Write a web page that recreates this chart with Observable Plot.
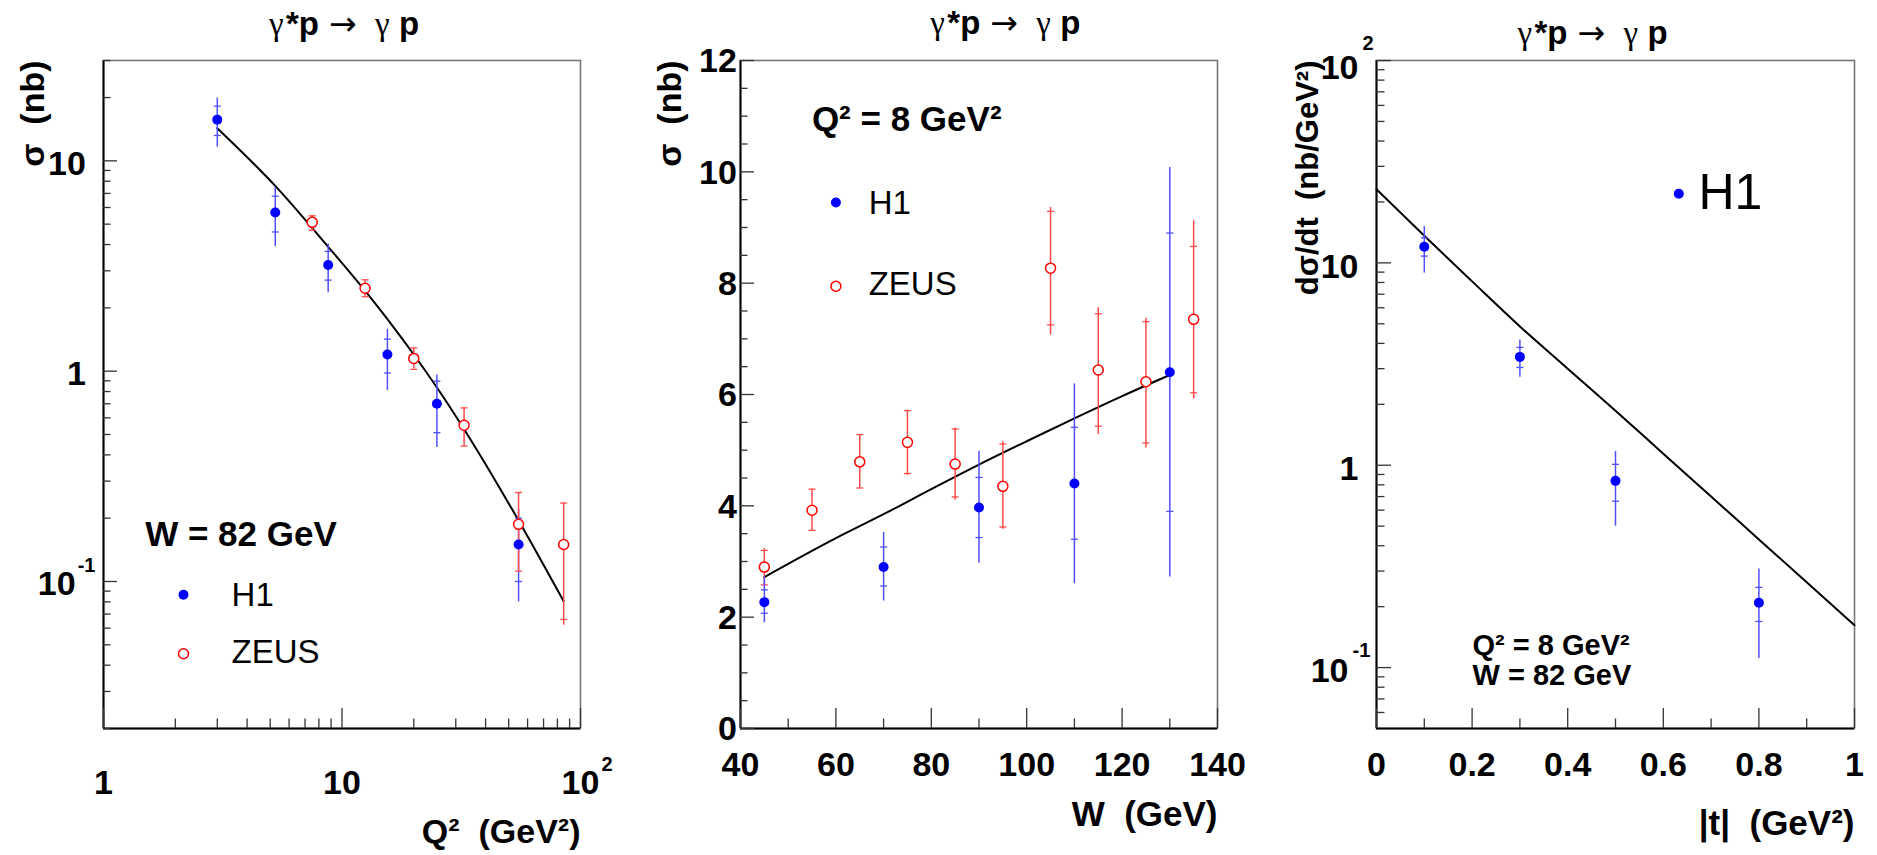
<!DOCTYPE html>
<html><head><meta charset="utf-8">
<script src="https://cdn.jsdelivr.net/npm/d3@7"></script>
<script src="https://cdn.jsdelivr.net/npm/@observablehq/plot@0.6"></script>
<style>
html,body{margin:0;padding:0;background:#fff;}
#fig{position:relative;width:1877px;height:855px;overflow:hidden;background:#fff;}
#fig svg{position:absolute;top:0;}
</style></head><body><div id="fig"></div>
<script>
// ---------------- Panel 1: sigma vs Q2 (W = 82 GeV) ----------------
const q2H1 = [3, 5.25, 8.75, 15.5, 25, 55];
const sigQ2H1 = [15.7, 5.68, 3.2, 1.2, 0.70, 0.15];
const sigQ2H1TotLo = [11.6, 3.91, 2.36, 0.81, 0.433, 0.08];
const sigQ2H1TotHi = [19.9, 7.47, 4.02, 1.58, 0.96, 0.22];
const sigQ2H1StatLo = [13.2, 4.59, 2.71, 0.98, 0.51, 0.10];
const sigQ2H1StatHi = [18.2, 6.79, 3.71, 1.42, 0.896, 0.20];

const q2Zeus = [7.5, 12.5, 20, 32.5, 55, 85];
const sigQ2Zeus = [5.1, 2.48, 1.15, 0.553, 0.187, 0.15];
const sigQ2ZeusTotLo = [4.68, 2.26, 1.02, 0.44, 0.112, 0.062];
const sigQ2ZeusTotHi = [5.48, 2.72, 1.29, 0.669, 0.265, 0.236];
const sigQ2ZeusCapLo = [4.68, 2.26, 1.02, 0.44, 0.112, 0.066];
const sigQ2ZeusCapHi = [5.48, 2.72, 1.29, 0.669, 0.265, 0.236];

const q2Model = [3, 5.25, 8.75, 12.5, 15.5, 20, 25, 32.5, 55, 85];
const sigQ2Model = [14.3, 7.6, 3.9, 2.41, 1.77, 1.2, 0.836, 0.53, 0.195, 0.0805];

const p1XMajor = [1, 10, 100];
const p1XMinor = [2, 3, 4, 5, 6, 7, 8, 9, 20, 30, 40, 50, 60, 70, 80, 90];
const p1YMajor = [0.1, 1, 10];
const p1YMinor = [0.02, 0.03, 0.04, 0.05, 0.06, 0.07, 0.08, 0.09, 0.2, 0.3, 0.4, 0.5, 0.6, 0.7, 0.8, 0.9, 2, 3, 4, 5, 6, 7, 8, 9, 20, 30];
const p1XLabelVals = [1, 10, 100];
const p1XLabelBase = ["1", "10", "10"];
const p1XLabelExp = ["", "", "2"];
const p1YLabelVals = [0.1, 1, 10];
const p1YLabelBase = ["10", "1", "10"];
const p1YLabelExp = ["-1", "", ""];

// ---------------- Panel 2: sigma vs W (Q2 = 8 GeV2) ----------------
const wH1 = [45, 70, 90, 110, 130];
const sigWH1 = [2.27, 2.9, 3.97, 4.4, 6.4];
const sigWH1TotLo = [1.9, 2.29, 2.97, 2.6, 2.72];
const sigWH1TotHi = [2.72, 3.52, 4.98, 6.19, 10.08];
const sigWH1StatLo = [2.07, 2.56, 3.43, 3.4, 3.9];
const sigWH1StatHi = [2.49, 3.26, 4.51, 5.41, 8.9];

const wZeus = [45, 55, 65, 75, 85, 95, 105, 115, 125, 135];
const sigWZeus = [2.9, 3.92, 4.79, 5.14, 4.75, 4.35, 8.27, 6.44, 6.23, 7.35];
const sigWZeusTotLo = [2.58, 3.56, 4.32, 4.55, 4.1, 3.58, 7.07, 5.28, 5.04, 5.92];
const sigWZeusTotHi = [3.23, 4.3, 5.28, 5.72, 5.4, 5.15, 9.36, 7.56, 7.37, 9.12];
const sigWZeusCapLo = [2.58, 3.56, 4.32, 4.58, 4.16, 3.62, 7.25, 5.43, 5.13, 6.03];
const sigWZeusCapHi = [3.2, 4.3, 5.28, 5.71, 5.38, 5.11, 9.29, 7.45, 7.31, 8.66];

const wModel = [45, 60, 70, 80, 90, 100, 110, 120, 130];
const sigWModel = [2.72, 3.42, 3.85, 4.3, 4.74, 5.16, 5.57, 5.97, 6.35];

const p2XMajor = [40, 60, 80, 100, 120, 140];
const p2XMinor = [50, 70, 90, 110, 130];
const p2YMajor = [0, 2, 4, 6, 8, 10, 12];
const p2YMinor = [0.5, 1, 1.5, 2.5, 3, 3.5, 4.5, 5, 5.5, 6.5, 7, 7.5, 8.5, 9, 9.5, 10.5, 11, 11.5];
const p2XLabels = ["40", "60", "80", "100", "120", "140"];
const p2YLabels = ["0", "2", "4", "6", "8", "10", "12"];

// ---------------- Panel 3: dsigma/dt vs |t| ----------------
const tH1 = [0.1, 0.3, 0.5, 0.8];
const dsdtH1 = [12.0, 3.43, 0.837, 0.209];
const dsdtH1TotLo = [8.9, 2.72, 0.5, 0.111];
const dsdtH1TotHi = [15.1, 4.16, 1.17, 0.307];
const dsdtH1StatLo = [10.8, 3.04, 0.664, 0.169];
const dsdtH1StatHi = [13.3, 3.82, 1.01, 0.249];

const tModel = [0, 0.1, 0.2, 0.3, 0.4, 0.5, 0.6, 0.7, 0.8, 0.9, 1.0];
const dsdtModel = [23.1, 13.6, 8.1, 4.85, 3.0, 1.86, 1.14, 0.70, 0.43, 0.264, 0.162];

const p3XMajor = [0, 0.2, 0.4, 0.6, 0.8, 1];
const p3XMinor = [0.1, 0.3, 0.5, 0.7, 0.9];
const p3XLabels = ["0", "0.2", "0.4", "0.6", "0.8", "1"];
const p3YMajor = [0.1, 1, 10, 100];
const p3YMinor = [0.06, 0.07, 0.08, 0.09, 0.2, 0.3, 0.4, 0.5, 0.6, 0.7, 0.8, 0.9, 2, 3, 4, 5, 6, 7, 8, 9, 20, 30, 40, 50, 60, 70, 80, 90];
const p3YLabelVals = [0.1, 1, 10, 100];
const p3YLabelBase = ["10", "1", "10", "10"];
const p3YLabelExp = ["-1", "", "", "2"];

// title "γ*p → γ p" split into pieces (symbol-font gammas, bold p)
const titlePieces = ["γ", "*p", "→", "γ", "p"];
const titlePieceKind = ["greek", "bold", "arrow", "greek", "bold"];

// ---------------- styling ----------------
const FONT = '"Liberation Sans", Arial, Helvetica, sans-serif';
const SERIF = '"Liberation Serif", "Times New Roman", serif';
const ARROWFONT = '"DejaVu Sans", sans-serif';
const BLUE = "#0000ff", RED = "#ff0000";
const ERR_BLUE = "#5050ff", ERR_RED = "#ff4a4a";
const TICK = "#333";
const W_IN = 477, H_IN = 668;
const capSym = {draw(ctx) { ctx.moveTo(-3.5, 0); ctx.lineTo(3.5, 0); }};
const fig = document.getElementById("fig");
const pieceOffsets = [-76, -59, -16, 30, 54];

function frameMarks(xMin, yMin) {
  return [
    Plot.frame({stroke: "#777", strokeWidth: 1.6}),
    Plot.ruleX([xMin], {stroke: "black", strokeWidth: 2}),
    Plot.ruleY([yMin], {stroke: "black", strokeWidth: 2})
  ];
}
function tickMarks(xMajor, xMinor, yMajor, yMinor) {
  return [
    Plot.tickX(xMinor, {x: d => d, insetTop: H_IN - 9.5, stroke: TICK, strokeWidth: 1.3}),
    Plot.tickX(xMajor, {x: d => d, insetTop: H_IN - 20, stroke: TICK, strokeWidth: 1.3}),
    Plot.tickY(yMinor, {y: d => d, insetRight: W_IN - 7.5, stroke: TICK, strokeWidth: 1.3}),
    Plot.tickY(yMajor, {y: d => d, insetRight: W_IN - 14, stroke: TICK, strokeWidth: 1.3})
  ];
}
function errMarks(xs, lo, hi, capLo, capHi, color) {
  const idx = d3.range(xs.length);
  return [
    Plot.ruleX(idx, {x: i => xs[i], y1: i => lo[i], y2: i => hi[i], stroke: color, strokeWidth: 1.5}),
    Plot.dot(idx, {x: i => xs[i], y: i => capLo[i], symbol: capSym, stroke: color, fill: "none", strokeWidth: 1.3}),
    Plot.dot(idx, {x: i => xs[i], y: i => capHi[i], symbol: capSym, stroke: color, fill: "none", strokeWidth: 1.3})
  ];
}
function h1Dots(xs, ys) {
  return Plot.dot(d3.range(xs.length), {x: i => xs[i], y: i => ys[i], r: 5, fill: BLUE, stroke: "none"});
}
function zeusDots(xs, ys) {
  return Plot.dot(d3.range(xs.length), {x: i => xs[i], y: i => ys[i], r: 5, fill: "white", stroke: RED, strokeWidth: 1.5});
}
function txt(s, o) {
  return Plot.text([s], {text: d => d, fill: "black", lineAnchor: "middle", ...o});
}
function titleMarks(dx, dy) {
  return titlePieces.map((s, i) => {
    const k = titlePieceKind[i];
    return txt(s, {
      frameAnchor: "top", textAnchor: "start", dx: dx + pieceOffsets[i], dy,
      fontSize: k === "greek" ? 33 : 33,
      fontWeight: k === "bold" ? "bold" : "normal",
      fontFamily: k === "greek" ? SERIF : k === "arrow" ? ARROWFONT : FONT
    });
  });
}
function yLogLabels(vals, base, exp, o) {
  const idx = d3.range(vals.length);
  const common = {frameAnchor: "left", lineAnchor: "middle", fontWeight: "bold"};
  return [
    Plot.text(idx, {...common, filter: i => exp[i] === "", y: i => vals[i], text: i => base[i], textAnchor: "end", dx: o.dx, dy: o.dy, fontSize: 34}),
    Plot.text(idx, {...common, filter: i => exp[i] === "-1", y: i => vals[i], text: i => base[i], textAnchor: "end", dx: o.dxNeg, dy: o.dy, fontSize: 34}),
    Plot.text(idx, {...common, filter: i => exp[i] === "-1", y: i => vals[i], text: i => exp[i], textAnchor: "start", dx: o.dxNegExp, dy: o.dyExp, fontSize: 20}),
    Plot.text(idx, {...common, filter: i => exp[i] === "2", y: i => vals[i], text: i => base[i], textAnchor: "end", dx: o.dx, dy: o.dyTop, fontSize: 34}),
    Plot.text(idx, {...common, filter: i => exp[i] === "2", y: i => vals[i], text: i => exp[i], textAnchor: "start", dx: o.dxPosExp, dy: o.dyExp, fontSize: 20})
  ];
}
function makePanel(left, ml, mr, xOpt, yOpt, marks) {
  const svg = Plot.plot({
    width: 626, height: 855,
    marginLeft: ml, marginRight: mr, marginTop: 60, marginBottom: 127,
    x: {...xOpt, axis: null}, y: {...yOpt, axis: null},
    style: {fontFamily: FONT, background: "transparent", color: "black", overflow: "visible"},
    marks
  });
  svg.style.left = left + "px";
  fig.appendChild(svg);
}

// ---------------- Panel 1 ----------------
{
  const idxX = d3.range(p1XLabelVals.length);
  makePanel(0, 103, 46, {type: "log", domain: [1, 100]}, {type: "log", domain: [0.02, 30]}, [
    ...frameMarks(1, 0.02),
    ...tickMarks(p1XMajor, p1XMinor, p1YMajor, p1YMinor),
    ...yLogLabels(p1YLabelVals, p1YLabelBase, p1YLabelExp, {dx: -17.6, dy: 3, dxNeg: -27.8, dxNegExp: -25.8, dyExp: -16, dyTop: 3, dxPosExp: -15}),
    Plot.text(idxX, {x: i => p1XLabelVals[i], text: i => p1XLabelBase[i], frameAnchor: "bottom", lineAnchor: "middle", textAnchor: "middle", dy: 54.7, fontSize: 34, fontWeight: "bold"}),
    Plot.text(idxX, {filter: i => p1XLabelExp[i] !== "", x: i => p1XLabelVals[i], text: i => p1XLabelExp[i], frameAnchor: "bottom", lineAnchor: "middle", textAnchor: "start", dx: 21, dy: 36, fontSize: 20, fontWeight: "bold"}),
    Plot.line(d3.range(q2Model.length), {x: i => q2Model[i], y: i => sigQ2Model[i], stroke: "black", strokeWidth: 2, curve: "monotone-x"}),
    ...errMarks(q2H1, sigQ2H1TotLo, sigQ2H1TotHi, sigQ2H1StatLo, sigQ2H1StatHi, ERR_BLUE),
    ...errMarks(q2Zeus, sigQ2ZeusTotLo, sigQ2ZeusTotHi, sigQ2ZeusCapLo, sigQ2ZeusCapHi, ERR_RED),
    h1Dots(q2H1, sigQ2H1),
    zeusDots(q2Zeus, sigQ2Zeus),
    ...titleMarks(3, -36.5),
    txt("σ  (nb)", {frameAnchor: "top-left", rotate: -90, textAnchor: "end", dx: -70.6, dy: 0, fontSize: 34, fontWeight: "bold"}),
    txt("Q²  (GeV²)", {frameAnchor: "bottom-right", textAnchor: "end", dx: 0, dy: 103.4, fontSize: 34, fontWeight: "bold"}),
    txt("W = 82 GeV", {frameAnchor: "top-left", textAnchor: "start", dx: 41.7, dy: 473.8, fontSize: 35, fontWeight: "bold"}),
    Plot.dot([0], {frameAnchor: "top-left", dx: 80, dy: 534.3, r: 5, fill: BLUE}),
    txt("H1", {frameAnchor: "top-left", textAnchor: "start", dx: 128.1, dy: 534.5, fontSize: 33}),
    Plot.dot([0], {frameAnchor: "top-left", dx: 80, dy: 593.3, r: 5, fill: "white", stroke: RED, strokeWidth: 1.5}),
    txt("ZEUS", {frameAnchor: "top-left", textAnchor: "start", dx: 128.1, dy: 591.8, fontSize: 33})
  ]);
}

// ---------------- Panel 2 ----------------
{
  makePanel(626, 114, 35, {type: "linear", domain: [40, 140]}, {type: "linear", domain: [0, 12]}, [
    ...frameMarks(40, 0),
    ...tickMarks(p2XMajor, p2XMinor, p2YMajor, p2YMinor),
    Plot.text(d3.range(p2YMajor.length), {y: i => p2YMajor[i], text: i => p2YLabels[i], frameAnchor: "left", lineAnchor: "middle", textAnchor: "end", dx: -3.6, dy: 1, fontSize: 34, fontWeight: "bold"}),
    Plot.text(d3.range(p2XMajor.length), {x: i => p2XMajor[i], text: i => p2XLabels[i], frameAnchor: "bottom", lineAnchor: "middle", textAnchor: "middle", dy: 36.4, fontSize: 34, fontWeight: "bold"}),
    Plot.line(d3.range(wModel.length), {x: i => wModel[i], y: i => sigWModel[i], stroke: "black", strokeWidth: 2, curve: "monotone-x"}),
    ...errMarks(wZeus, sigWZeusTotLo, sigWZeusTotHi, sigWZeusCapLo, sigWZeusCapHi, ERR_RED),
    ...errMarks(wH1, sigWH1TotLo, sigWH1TotHi, sigWH1StatLo, sigWH1StatHi, ERR_BLUE),
    zeusDots(wZeus, sigWZeus),
    h1Dots(wH1, sigWH1),
    ...titleMarks(27.3, -37.5),
    txt("σ  (nb)", {frameAnchor: "top-left", rotate: -90, textAnchor: "end", dx: -70.6, dy: 0, fontSize: 34, fontWeight: "bold"}),
    txt("W  (GeV)", {frameAnchor: "bottom-right", textAnchor: "end", dx: 0, dy: 86.1, fontSize: 35, fontWeight: "bold"}),
    txt("Q² = 8 GeV²", {frameAnchor: "top-left", textAnchor: "start", dx: 71.4, dy: 58.8, fontSize: 35, fontWeight: "bold"}),
    Plot.dot([0], {frameAnchor: "top-left", dx: 95.4, dy: 142, r: 5, fill: BLUE}),
    txt("H1", {frameAnchor: "top-left", textAnchor: "start", dx: 128.2, dy: 142.7, fontSize: 33}),
    Plot.dot([0], {frameAnchor: "top-left", dx: 95.4, dy: 225.7, r: 5, fill: "white", stroke: RED, strokeWidth: 1.5}),
    txt("ZEUS", {frameAnchor: "top-left", textAnchor: "start", dx: 128.2, dy: 224.4, fontSize: 33})
  ]);
}

// ---------------- Panel 3 ----------------
{
  makePanel(1251, 125, 23, {type: "linear", domain: [0, 1]}, {type: "log", domain: [0.05, 100]}, [
    ...frameMarks(0, 0.05),
    ...tickMarks(p3XMajor, p3XMinor, p3YMajor, p3YMinor),
    ...yLogLabels(p3YLabelVals, p3YLabelBase, p3YLabelExp, {dx: -18, dy: 4, dxNeg: -28, dxNegExp: -24, dyExp: -17, dyTop: 7.5, dxPosExp: -14}),
    Plot.text(d3.range(p3XMajor.length), {x: i => p3XMajor[i], text: i => p3XLabels[i], frameAnchor: "bottom", lineAnchor: "middle", textAnchor: "middle", dy: 36.4, fontSize: 34, fontWeight: "bold"}),
    Plot.line(d3.range(tModel.length), {x: i => tModel[i], y: i => dsdtModel[i], stroke: "black", strokeWidth: 2, curve: "monotone-x"}),
    ...errMarks(tH1, dsdtH1TotLo, dsdtH1TotHi, dsdtH1StatLo, dsdtH1StatHi, ERR_BLUE),
    h1Dots(tH1, dsdtH1),
    ...titleMarks(-22, -27.3),
    txt("dσ/dt  (nb/GeV²)", {frameAnchor: "top-left", rotate: -90, textAnchor: "end", dx: -68, dy: 0, fontSize: 31, fontWeight: "bold"}),
    txt("|t|  (GeV²)", {frameAnchor: "bottom-right", textAnchor: "end", dx: 0, dy: 95, fontSize: 35, fontWeight: "bold"}),
    Plot.dot([0], {frameAnchor: "top-left", dx: 302.3, dy: 133.3, r: 5, fill: BLUE}),
    txt("H1", {frameAnchor: "top-left", textAnchor: "start", dx: 322, dy: 132, fontSize: 50}),
    txt("Q² = 8 GeV²", {frameAnchor: "top-left", textAnchor: "start", dx: 96, dy: 585.7, fontSize: 29, fontWeight: "bold"}),
    txt("W = 82 GeV", {frameAnchor: "top-left", textAnchor: "start", dx: 96, dy: 615.7, fontSize: 29, fontWeight: "bold"})
  ]);
}
</script>
</body></html>
